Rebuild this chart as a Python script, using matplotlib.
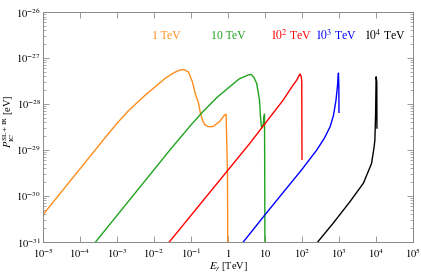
import matplotlib
matplotlib.use("Agg")
import matplotlib.pyplot as plt
from matplotlib.ticker import LogLocator, FixedLocator, NullLocator

plt.rcParams['font.family'] = 'serif'
plt.rcParams['font.serif'] = ['Liberation Serif', 'DejaVu Serif']
plt.rcParams['mathtext.fontset'] = 'stix'

# photon energy E [TeV] and power P [eV]
e_1 = [1e-5, 4.5e-4, 1.0e-3, 2.0e-3, 3.2e-3, 6.0e-3, 1.0e-2, 2.0e-2, 3.3e-2, 5.0e-2, 6.5e-2, 8.5e-2,
       0.11, 0.13, 0.16, 0.18, 0.21, 0.24, 0.30, 0.40, 0.60, 0.80, 0.89, 0.97, 1.0]
p_1 = [3.9e-31, 1.74e-29, 3.8e-29, 7.0e-29, 1.0e-28, 1.6e-28, 2.25e-28, 3.6e-28, 4.7e-28, 5.5e-28, 5.6e-28, 5.0e-28,
       3.0e-28, 1.7e-28, 1.05e-28, 6.3e-29, 4.2e-29, 3.5e-29, 3.2e-29, 3.25e-29, 4.2e-29, 5.7e-29, 6.0e-29, 3.0e-30, 1e-32]

e_10 = [2.65e-4, 2.7e-2, 0.1, 0.21, 0.5, 1.13, 2.0, 3.55, 4.2, 5.0, 5.97, 7.1, 7.6, 8.1,
        8.9, 9.4, 9.7, 9.85, 10.0]
p_10 = [1e-31, 1.0e-29, 3.5e-29, 6.8e-29, 1.38e-28, 2.4e-28, 3.5e-28, 4.3e-28, 4.4e-28, 3.8e-28,
        2.8e-28, 1.23e-28, 5.0e-29, 3.0e-29, 3.5e-29, 5.2e-29, 6.0e-29, 3.0e-30, 1e-32]

e_100 = [2.6e-2, 3.94, 31.3, 56.0, 72.0, 88.3, 95.0, 98.5, 99.5, 100.0]
p_100 = [1e-31, 1.41e-29, 1.23e-28, 2.5e-28, 3.3e-28, 4.5e-28, 4.0e-28, 3.2e-28, 3.2e-29, 6.3e-30]

e_1000 = [2.6, 10.0, 97.7, 251, 398, 575, 708, 832, 912, 966, 990, 1000]
p_1000 = [1e-31, 3.9e-31, 3.7e-30, 1.0e-29, 1.78e-29, 3.2e-29, 5.6e-29, 1.23e-28, 2.5e-28, 4.7e-28, 2.5e-28, 6.6e-29]

e_10000 = [266, 708, 2000, 4570, 7590, 8910, 9330, 9770, 10000, 10100, 10500, 10600]
p_10000 = [1e-31, 2.6e-31, 7.6e-31, 1.9e-30, 5.1e-30, 1.17e-29, 1.66e-29, 6.3e-29, 2.5e-28, 3.9e-28, 3.0e-28, 3.0e-29]

series = [
    (e_1, p_1, '#ff8c1a', r'1 TeV', 2.1e-2),
    (e_10, p_10, '#1fa31f', r'10 TeV', 1.0),
    (e_100, p_100, '#ff0000', r'$10^2$ TeV', 52.0),
    (e_1000, p_1000, '#0000ff', r'$10^3$ TeV', 830.0),
    (e_10000, p_10000, '#000000', r'$10^4$ TeV', 17400.0),
]

x_ticks = [1e-5, 1e-4, 1e-3, 1e-2, 1e-1, 1, 10, 1e2, 1e3, 1e4, 1e5]
x_labels = [r'$10^{-5}$', r'$10^{-4}$', r'$10^{-3}$', r'$10^{-2}$', r'$10^{-1}$', r'$1$', r'$10$',
            r'$10^{2}$', r'$10^{3}$', r'$10^{4}$', r'$10^{5}$']
y_ticks = [1e-31, 1e-30, 1e-29, 1e-28, 1e-27, 1e-26]
y_labels = [r'$10^{-31}$', r'$10^{-30}$', r'$10^{-29}$', r'$10^{-28}$', r'$10^{-27}$', r'$10^{-26}$']

fig = plt.figure(figsize=(4.21, 2.74), dpi=100)
ax = fig.add_axes([0.102, 0.117, 0.879, 0.839])

for e, p, col, lab, xl in series:
    ax.plot(e, p, color=col, lw=1.0)
    ax.text(xl, 3.0e-27, lab, color=col, fontsize=8.5, ha='center', va='center')

ax.set_xscale('log')
ax.set_yscale('log')
ax.set_xlim(1e-5, 1e5)
ax.set_ylim(1e-31, 1e-26)

ax.xaxis.set_major_locator(FixedLocator(x_ticks))
ax.xaxis.set_minor_locator(NullLocator())
ax.set_xticklabels(x_labels)
ax.yaxis.set_major_locator(FixedLocator(y_ticks))
ax.yaxis.set_minor_locator(LogLocator(base=10, subs=range(2, 10)))
ax.set_yticklabels(y_labels)

ax.tick_params(which='both', direction='in', top=True, right=True, color='#888888',
               labelsize=7.5)
ax.tick_params(axis='y', pad=1.5)
ax.tick_params(axis='x', pad=3.5)
ax.tick_params(which='major', length=4, width=0.6)
ax.tick_params(which='minor', length=2, width=0.5)
for s in ax.spines.values():
    s.set_color('#888888')
    s.set_linewidth(0.7)

ax.set_xlabel(r'$E_\gamma$ [TeV]', fontsize=7.5)
ax.xaxis.set_label_coords(0.5, -0.083)
ax.set_ylabel(r'$P_{\rm IC}^{\rm SL+IR}$ [eV]', fontsize=7.5)
ax.yaxis.set_label_coords(-0.07, 0.526)

fig.savefig('out.png', dpi=100)
